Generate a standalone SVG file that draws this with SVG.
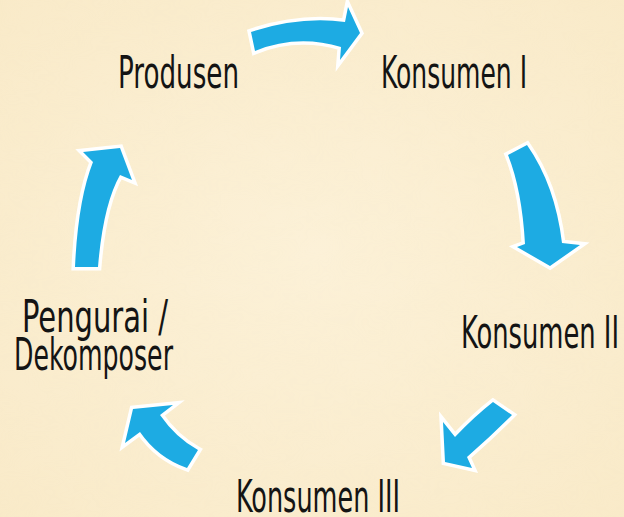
<svg xmlns="http://www.w3.org/2000/svg" width="624" height="517" viewBox="0 0 624 517">
  <defs>
    <style>
      .lbl { font-family: "Liberation Sans Narrow", "DejaVu Sans Condensed", "Liberation Sans", sans-serif; font-stretch: condensed; font-size: 44px; fill: #141414; }
      .arrow { fill: #1DABE3; stroke: #FFFFFF; stroke-width: 7; stroke-linejoin: miter; stroke-miterlimit: 10; paint-order: stroke; }
    </style>
    <filter id="paper" x="0" y="0" width="100%" height="100%">
      <feTurbulence type="fractalNoise" baseFrequency="0.015 0.03" numOctaves="3" seed="4" result="n"/>
      <feColorMatrix in="n" type="matrix" values="0 0 0 0 0.9  0 0 0 0 0.78  0 0 0 0 0.5  0 0 0 0.3 -0.05"/>
    </filter>
    <radialGradient id="bg" cx="50%" cy="50%" r="75%">
      <stop offset="0" stop-color="#FCF1D8"/>
      <stop offset="1" stop-color="#F9EAC8"/>
    </radialGradient>
  </defs>

  <rect width="624" height="517" fill="url(#bg)"/>
  <rect width="624" height="517" filter="url(#paper)" opacity="0.3"/>

  <g id="connectors">
    <path class="arrow" d="M251,32 Q300,16 345,22 L348,7 L360,33 L340,60 L341,47 Q297,34 255,51 Z"/>
    <path class="arrow" d="M527,145 Q555,185 562,243 L580,245 L550,266 L517,247 L525,244 Q522,190 508,155 Z"/>
    <path class="arrow" d="M493,402 Q475,416 455,437 L443,422 L445,462 L472,468 L467,457 Q490,437 512,415 Z"/>
    <path class="arrow" d="M173,405 L160,415 Q176,438 198,450 L187,468 Q158,458 140,432 L125,443 L133,409 Z"/>
    <path class="arrow" d="M75,267 Q78,200 93,162 L83,152 L120,148 L132,180 L120,175 Q103,205 98,267 Z"/>
  </g>

  <g id="produsen">
    <text class="lbl" x="118" y="88" textLength="121" lengthAdjust="spacingAndGlyphs">Produsen</text>
  </g>
  <g id="konsumen1">
    <text class="lbl" x="381" y="88" textLength="146" lengthAdjust="spacingAndGlyphs">Konsumen I</text>
  </g>
  <g id="konsumen2">
    <text class="lbl" x="461" y="348" textLength="158" lengthAdjust="spacingAndGlyphs">Konsumen II</text>
  </g>
  <g id="konsumen3">
    <text class="lbl" x="236" y="512" textLength="164" lengthAdjust="spacingAndGlyphs">Konsumen III</text>
  </g>
  <g id="pengurai">
    <text class="lbl" x="22" y="332" textLength="146" lengthAdjust="spacingAndGlyphs">Pengurai /</text>
    <text class="lbl" x="14" y="370" textLength="159" lengthAdjust="spacingAndGlyphs">Dekomposer</text>
  </g>
</svg>
